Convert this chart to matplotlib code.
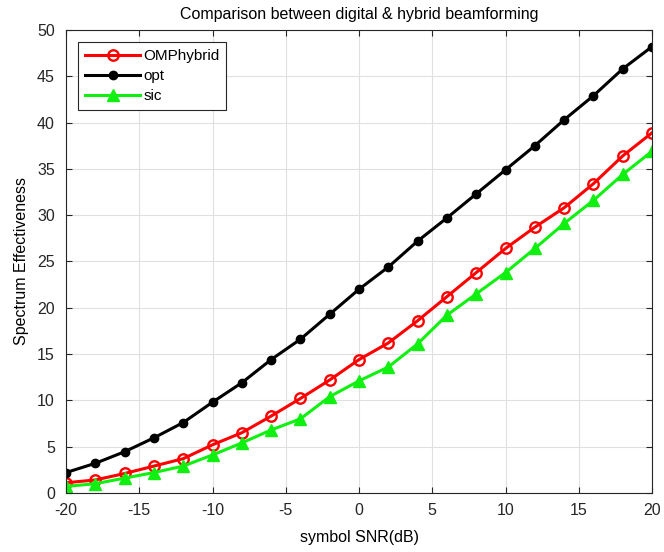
import matplotlib
matplotlib.use('Agg')
import matplotlib.pyplot as plt

plt.rcParams['font.family'] = ['Liberation Sans', 'DejaVu Sans']
plt.rcParams['axes.unicode_minus'] = False

snr = [-20, -18, -16, -14, -12, -10, -8, -6, -4, -2, 0,
       2, 4, 6, 8, 10, 12, 14, 16, 18, 20]

omp_hybrid = [1.1, 1.4, 2.1, 2.9, 3.7, 5.2, 6.5, 8.3, 10.2, 12.2, 14.4,
              16.2, 18.6, 21.2, 23.8, 26.4, 28.7, 30.8, 33.4, 36.4, 38.9]
opt = [2.2, 3.2, 4.45, 5.95, 7.6, 9.8, 11.9, 14.4, 16.6, 19.3, 22.0,
       24.4, 27.2, 29.7, 32.3, 34.9, 37.5, 40.3, 42.9, 45.8, 48.2]
sic = [0.7, 1.0, 1.6, 2.2, 2.9, 4.1, 5.4, 6.8, 8.0, 10.4, 12.1,
       13.6, 16.1, 19.2, 21.5, 23.8, 26.4, 29.1, 31.6, 34.4, 36.9]

fig = plt.figure(figsize=(6.64, 5.52), dpi=100)
ax = fig.add_axes([0.0994, 0.107, 0.8826, 0.8387])

ax.plot(snr, omp_hybrid, '-o', color='#ff0000', linewidth=2.2, markersize=7.5,
        markerfacecolor='none', markeredgewidth=1.7, label='OMPhybrid')
ax.plot(snr, opt, '-o', color='black', linewidth=2.2, markersize=6, label='opt')
ax.plot(snr, sic, '-^', color='#10f010', linewidth=2.2, markersize=8.5, label='sic')

ax.set_xlim(-20, 20)
ax.set_ylim(0, 50)
ax.set_xticks(range(-20, 21, 5))
ax.set_yticks(range(0, 51, 5))
ax.grid(True, color='#e0e0e0', linewidth=0.8)
ax.tick_params(direction='in', top=True, right=True, labelsize=11.5,
               colors='#262626', length=4)
ax.tick_params(axis='x', pad=7)
ax.tick_params(axis='y', pad=8)
for s in ax.spines.values():
    s.set_color('#262626')
    s.set_linewidth(0.8)

ax.set_title('Comparison between digital & hybrid beamforming', fontsize=11.5, pad=8)
ax.set_xlabel('symbol SNR(dB)', fontsize=11.5, labelpad=9)
ax.set_ylabel('Spectrum Effectiveness', fontsize=11.5, labelpad=6)

leg = ax.legend(loc='upper left', fontsize=11, handlelength=3.6,
                fancybox=False, edgecolor='#262626', framealpha=1,
                borderaxespad=0.8, labelspacing=0.4, handletextpad=0.2,
                borderpad=0.45)
leg.get_frame().set_linewidth(0.8)

fig.savefig('out.png', dpi=100)
